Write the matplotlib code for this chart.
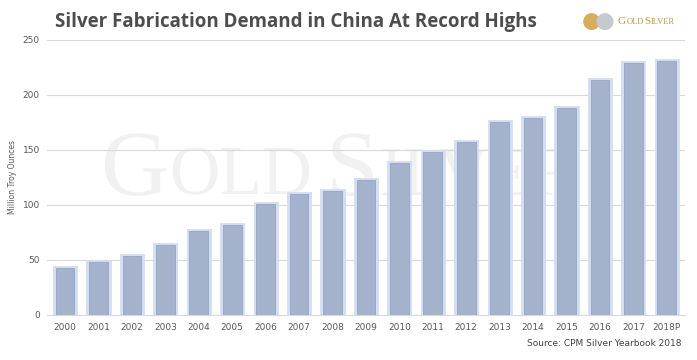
import matplotlib.pyplot as plt
from matplotlib.patches import Circle

# data
years = ['2000', '2001', '2002', '2003', '2004', '2005', '2006', '2007', '2008', '2009',
         '2010', '2011', '2012', '2013', '2014', '2015', '2016', '2017', '2018P']
demand = [43, 48, 54, 64, 76, 82, 101, 110, 113, 123,
          138, 148, 157, 175, 179, 188, 214, 229, 231]
yticks = [0, 50, 100, 150, 200, 250]

bar_color = '#a4b2cc'
glow_color = '#d3def2'
text_gray = '#595959'
grid_gray = '#d9d9d9'
logo_color = '#bf994d'

fig = plt.figure(figsize=(6.97, 3.6), dpi=100)
fig.patch.set_facecolor('white')
ax = fig.add_axes([0.067, 0.125, 0.916, 0.764])
renderer = fig.canvas.get_renderer()


def small_caps(x0, y0, pieces, big, small, color, z=1):
    # place text pieces one after another, in pixels of the figure
    xp = x0
    for i, s in enumerate(pieces):
        fs = big if i % 2 == 0 else small
        t = fig.text(xp / 697, y0 / 360, s, fontsize=fs, color=color, ha='left',
                     va='baseline', family='Liberation Serif', zorder=z)
        xp = t.get_window_extent(renderer).x1 + 0.5


x = range(len(years))
# soft glow around bars
ax.bar(x, demand, width=0.6, color=bar_color, edgecolor=glow_color, linewidth=3.5, zorder=3)
ax.bar(x, demand, width=0.56, color=bar_color, edgecolor='#95a5c4', linewidth=0.6, zorder=4)

ax.set_xlim(-0.55, len(years) - 0.45)
ax.set_ylim(0, 250)
ax.set_yticks(yticks)
ax.set_xticks(list(x))
ax.set_xticklabels(years)
ax.tick_params(axis='both', length=0, labelsize=6.5, colors=text_gray, pad=6)
ax.tick_params(axis='y', pad=5)
ax.yaxis.grid(True, color=grid_gray, linewidth=0.8, zorder=0)
for s in ['top', 'right', 'left']:
    ax.spines[s].set_visible(False)
ax.spines['bottom'].set_color(grid_gray)
ax.set_ylabel('Million Troy Ounces', fontsize=5.5, color=text_gray)
ax.yaxis.set_label_coords(-0.047, 0.5)

# watermark (behind bars: figure text drawn before axes is not possible, so use axes text)
xw = 100
for i, s in enumerate(['G', 'OLD', 'S', 'ILVER']):
    fs = 68 if i % 2 == 0 else 50
    t = ax.text((xw - 47) / 638, (315 - 195) / 275, s, transform=ax.transAxes,
                fontsize=fs, family='Liberation Serif', color='#f1f1f1',
                ha='left', va='baseline', zorder=1)
    xw = t.get_window_extent(renderer).x1 + (14 if i == 1 else 1)

# title
fig.text(0.079, 0.94, 'Silver Fabrication Demand in China At Record Highs',
         fontsize=13.5, fontweight='bold', color='#4d4d4d', ha='left', va='center',
         family='Open Sans')

# logo
lax = fig.add_axes([0.836, 0.895, 0.047, 0.09])
lax.set_xlim(0, 2.2)
lax.set_ylim(0, 1.2)
lax.set_aspect('equal')
lax.axis('off')
lax.add_patch(Circle((0.6, 0.6), 0.52, color='#d6ad5c'))
lax.add_patch(Circle((1.5, 0.6), 0.52, color='#c4c8cf'))
small_caps(618, 336, ['G', 'OLD', 'S', 'ILVER'], 8, 6, logo_color)

# source
fig.text(0.978, 0.045, 'Source: CPM Silver Yearbook 2018', fontsize=6.5,
         color='#404040', ha='right', va='center')

plt.savefig('out.png', dpi=100, facecolor='white')
